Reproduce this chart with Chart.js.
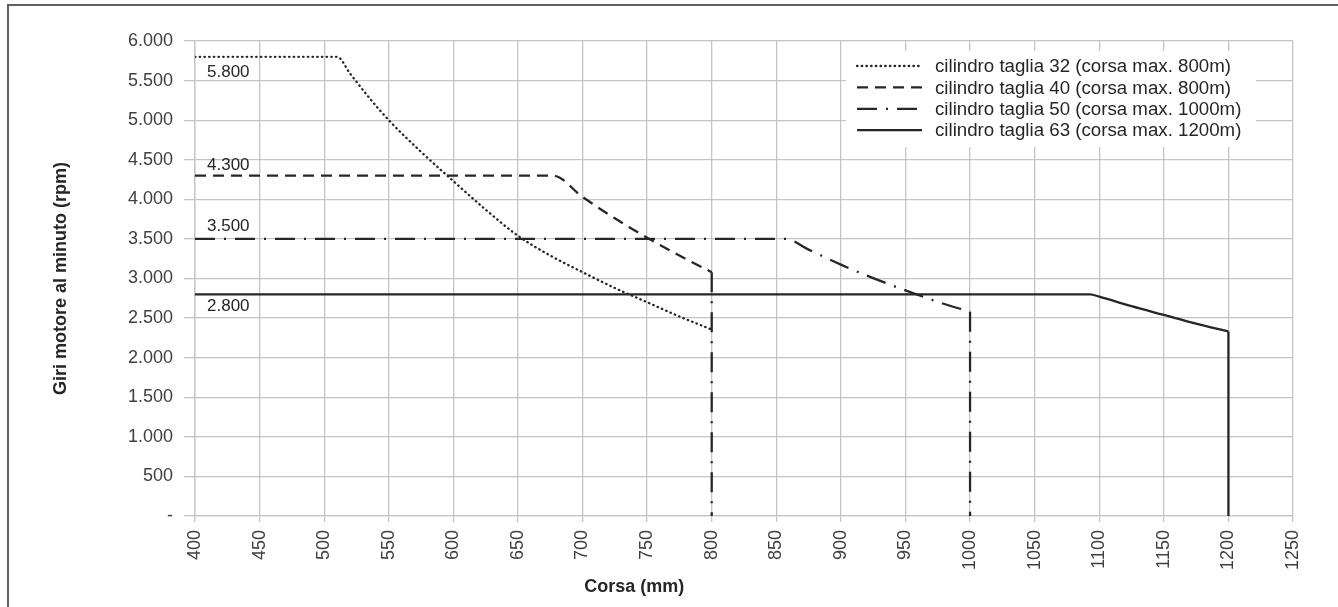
<!DOCTYPE html>
<html lang="it">
<head>
<meta charset="utf-8">
<title>Giri motore - corsa</title>
<script src="https://cdn.jsdelivr.net/npm/chart.js@4.4.1/dist/chart.umd.min.js"></script>
<style>
  html, body { margin: 0; padding: 0; background: #fff; overflow: hidden; }
  #wrap { position: relative; width: 1338px; height: 607px; }
</style>
</head>
<body>
<div id="wrap"><canvas id="graficoGiri"></canvas></div>
<script>
// === DATI ===
const seriesNames = [
  'cilindro taglia 32 (corsa max. 800m)',
  'cilindro taglia 40 (corsa max. 800m)',
  'cilindro taglia 50 (corsa max. 1000m)',
  'cilindro taglia 63 (corsa max. 1200m)'
];
const stroke32 = [400, 510, 520, 535, 550, 575, 600, 625, 650, 675, 700, 725, 750, 775, 800];
const rpm32    = [5800, 5800, 5590, 5280, 5000, 4600, 4230, 3870, 3540, 3290, 3080, 2880, 2700, 2520, 2355];
const stroke40 = [400, 677, 700, 725, 750, 775, 800];
const rpm40    = [4300, 4300, 4030, 3760, 3515, 3290, 3080];
const stroke50 = [400, 857, 875, 900, 925, 950, 975, 1000];
const rpm50    = [3500, 3500, 3365, 3175, 3005, 2850, 2705, 2580];
const stroke63 = [400, 1093, 1100, 1125, 1150, 1175, 1200];
const rpm63    = [2800, 2800, 2770, 2650, 2540, 2430, 2330];

const xTicks = [400, 450, 500, 550, 600, 650, 700, 750, 800, 850, 900, 950, 1000, 1050, 1100, 1150, 1200, 1250];
const yTicks = [0, 500, 1000, 1500, 2000, 2500, 3000, 3500, 4000, 4500, 5000, 5500, 6000];

// === STILI ===
const FONT = "'Liberation Sans', Arial, sans-serif";
const INK = '#262626';
const GRID = '#c4c4c4';
const dotted = [0.5, 4.2];
const dashed = [11, 7];
const dashDot = [20, 9, 2, 9];

const toPts = (xs, ys) => xs.map((x, i) => ({ x: x, y: ys[i] }));
// formato italiano: 6.000, zero come "-"
const fmt = v => v === 0 ? '-' : String(v).replace(/\B(?=(\d{3})+(?!\d))/g, '.');

function lineSet(label, xs, ys, dash, cap, labelDy) {
  return {
    label: label,
    data: toPts(xs, ys),
    showLine: true,
    borderColor: INK,
    borderWidth: 2.3,
    borderDash: dash,
    borderCapStyle: cap || 'butt',
    cubicInterpolationMode: 'monotone',
    pointRadius: 0,
    labelDy: labelDy,
    inLegend: true
  };
}
function dropSet(x, top, dash) {
  return {
    label: '',
    data: [{ x: x, y: top }, { x: x, y: 0 }],
    showLine: true,
    borderColor: INK,
    borderWidth: 2.3,
    borderDash: dash,
    pointRadius: 0,
    inLegend: false
  };
}

const datasets = [
  lineSet(seriesNames[0], stroke32, rpm32, dotted, 'round', 15),
  lineSet(seriesNames[1], stroke40, rpm40, dashed, 'butt', -10),
  lineSet(seriesNames[2], stroke50, rpm50, dashDot, 'butt', -13),
  lineSet(seriesNames[3], stroke63, rpm63, [], 'butt', 12),
  dropSet(stroke40[stroke40.length - 1], rpm40[rpm40.length - 1], dashDot),
  dropSet(stroke50[stroke50.length - 1], rpm50[rpm50.length - 1], dashDot),
  dropSet(stroke63[stroke63.length - 1], rpm63[rpm63.length - 1], [])
];

// cornice esterna (solo lati sinistro e superiore visibili)
const cornice = {
  id: 'cornice',
  beforeDraw(chart) {
    const ctx = chart.ctx;
    ctx.save();
    ctx.fillStyle = '#ffffff';
    ctx.fillRect(0, 0, chart.width, chart.height);
    ctx.fillStyle = '#5f5f5f';
    ctx.fillRect(7, 4, 2, chart.height - 4);
    ctx.fillRect(7, 4, chart.width - 7, 2);
    ctx.restore();
  }
};

// etichette dei valori iniziali (5.800, 4.300 ...)
const etichette = {
  id: 'etichette',
  afterDatasetsDraw(chart) {
    const ctx = chart.ctx;
    const xs = chart.scales.x, ys = chart.scales.y;
    ctx.save();
    ctx.font = '17px ' + FONT;
    ctx.fillStyle = INK;
    ctx.textAlign = 'left';
    ctx.textBaseline = 'middle';
    chart.data.datasets.forEach(ds => {
      if (!ds.inLegend) return;
      const p = ds.data[0];
      ctx.fillText(fmt(p.y), xs.getPixelForValue(p.x) + 12, ys.getPixelForValue(p.y) + ds.labelDy);
    });
    ctx.restore();
  }
};

// legenda dentro l'area del grafico, in alto a destra
const legenda = {
  id: 'legenda',
  afterDraw(chart) {
    const ctx = chart.ctx;
    const items = chart.data.datasets.filter(ds => ds.inLegend);
    const x0 = 846, y0 = 51, w = 410, h = 96;
    ctx.save();
    ctx.fillStyle = '#ffffff';
    ctx.fillRect(x0, y0, w, h);
    items.forEach((ds, i) => {
      const y = 66 + i * 21.4;
      ctx.beginPath();
      ctx.strokeStyle = ds.borderColor;
      ctx.lineWidth = ds.borderWidth;
      ctx.setLineDash(ds.borderDash);
      ctx.lineCap = ds.borderCapStyle;
      ctx.moveTo(857, y);
      ctx.lineTo(922, y);
      ctx.stroke();
      ctx.setLineDash([]);
      ctx.font = '18.7px ' + FONT;
      ctx.fillStyle = INK;
      ctx.textAlign = 'left';
      ctx.textBaseline = 'middle';
      ctx.fillText(ds.label, 935, y + 1);
    });
    ctx.restore();
  }
};

// titolo asse x (spostato a sinistra come nell'originale)
const titoloX = {
  id: 'titoloX',
  afterDraw(chart) {
    const ctx = chart.ctx;
    const a = chart.chartArea;
    ctx.save();
    ctx.font = 'bold 18px ' + FONT;
    ctx.fillStyle = INK;
    ctx.textAlign = 'center';
    ctx.textBaseline = 'middle';
    ctx.fillText('Corsa (mm)', a.left + (a.right - a.left) * 0.4, 587);
    ctx.restore();
  }
};

const ctx = document.getElementById('graficoGiri').getContext('2d');
new Chart(ctx, {
  type: 'scatter',
  data: { datasets: datasets },
  plugins: [cornice, etichette, legenda, titoloX],
  options: {
    responsive: true,
    maintainAspectRatio: false,
    animation: false,
    layout: { padding: { left: 8, top: 41, right: 45, bottom: 0 } },
    plugins: {
      legend: { display: false },
      tooltip: { enabled: false }
    },
    scales: {
      x: {
        type: 'linear',
        min: 400,
        max: 1250,
        afterFit: s => { s.height = 91; },
        afterBuildTicks: s => { s.ticks = xTicks.map(v => ({ value: v })); },
        ticks: {
          minRotation: 90,
          maxRotation: 90,
          padding: 8,
          color: '#404040',
          font: { family: FONT, size: 18 },
          callback: v => String(v)
        },
        grid: { color: GRID, lineWidth: 1.3, tickLength: 6 },
        border: { color: GRID, width: 1.3 }
      },
      y: {
        min: 0,
        max: 6000,
        afterFit: s => { s.width = 187; },
        afterBuildTicks: s => { s.ticks = yTicks.map(v => ({ value: v })); },
        ticks: {
          padding: 11,
          color: '#404040',
          font: { family: FONT, size: 18 },
          callback: v => fmt(v)
        },
        grid: { color: GRID, lineWidth: 1.3, tickLength: 11 },
        border: { color: GRID, width: 1.3 },
        title: {
          display: true,
          text: 'Giri motore al minuto (rpm)',
          color: INK,
          font: { family: FONT, size: 18, weight: 'bold' },
          padding: { top: 42, bottom: 0 }
        }
      }
    }
  }
});
</script>
</body>
</html>
